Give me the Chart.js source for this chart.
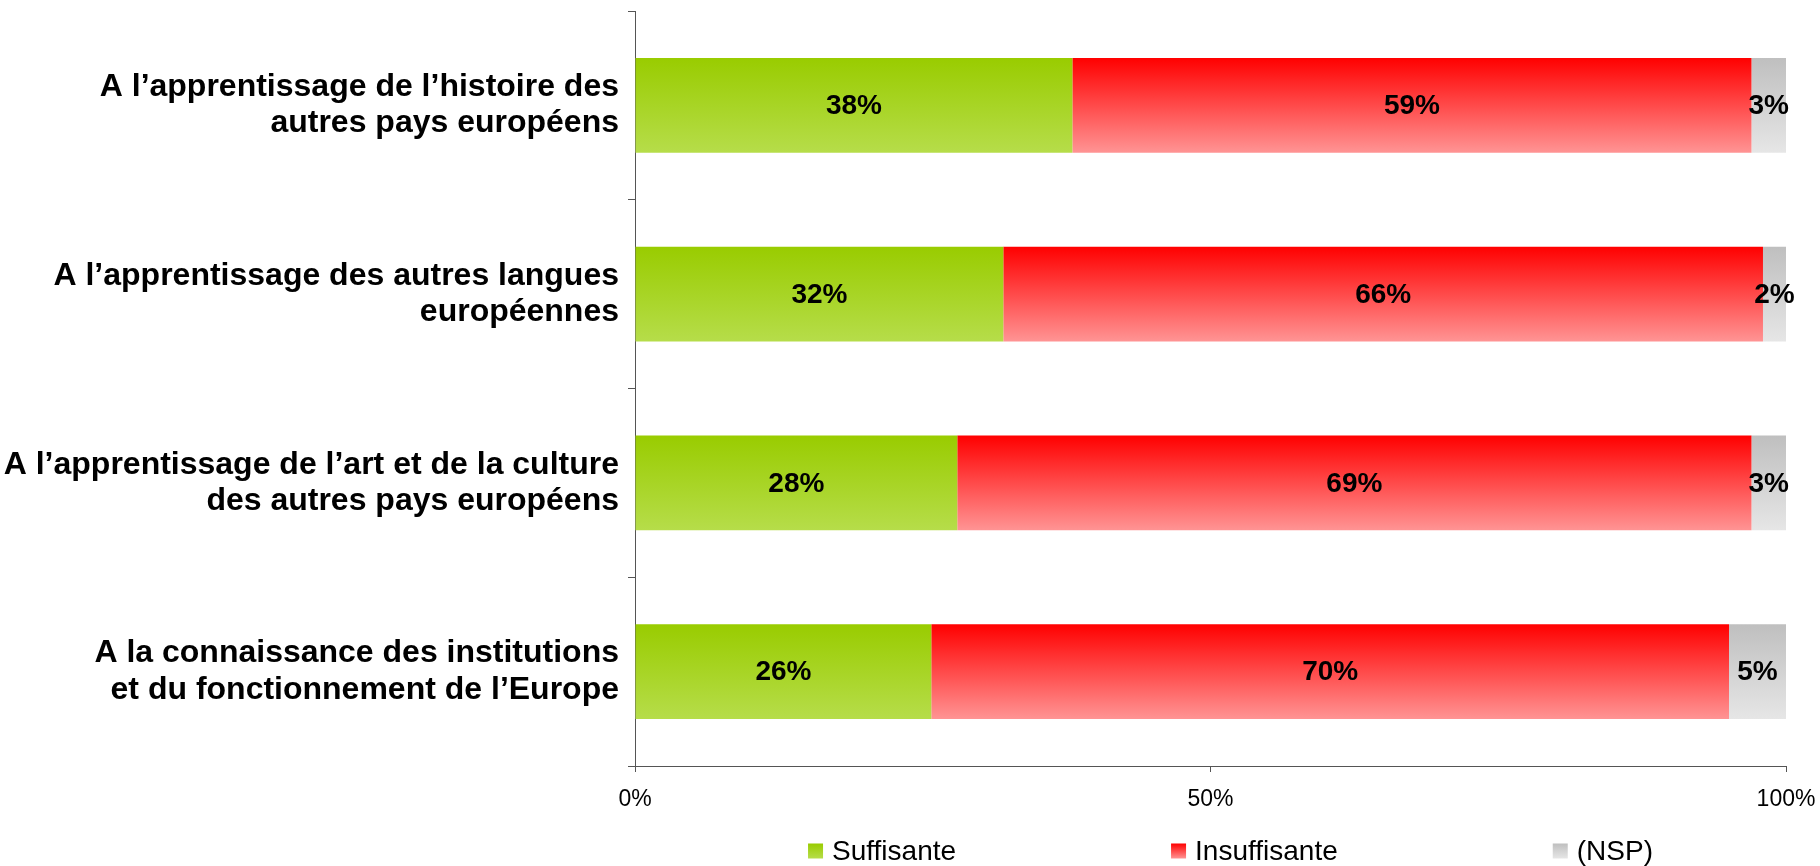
<!DOCTYPE html>
<html>
<head>
<meta charset="utf-8">
<script src="https://cdn.jsdelivr.net/npm/chart.js@4"></script>
<style>
    body { margin: 0; background: #fff; }
    #wrap { width: 1820px; height: 866px; position: relative; }
</style>
</head>
<body>
<div id="wrap"><canvas id="eduChart"></canvas></div>
<script>
// Data
const categories = [
    ['A l’apprentissage de l’histoire des', 'autres pays européens'],
    ['A l’apprentissage des autres langues', 'européennes'],
    ['A l’apprentissage de l’art et de la culture', 'des autres pays européens'],
    ['A la connaissance des institutions', 'et du fonctionnement de l’Europe']
];
const seriesNames = ['Suffisante', 'Insuffisante', '(NSP)'];
const suffisante = [38, 32, 28, 26];
const insuffisante = [59, 66, 69, 70];
const nsp = [3, 2, 3, 5];
const xTickValues = [0, 50, 100];

const FONT = '"Liberation Sans", Arial, sans-serif';
const BAR_SHARE = 0.503;

// 100% stacked: each row is scaled to its own total
const rowTotals = categories.map((c, i) => suffisante[i] + insuffisante[i] + nsp[i]);
function toShare(arr) {
    return arr.map((v, i) => v / rowTotals[i] * 100);
}

// Vertical gradient for each bar, from the y scale position of its category
function barGradient(top, bottom) {
    return function(c) {
        const chart = c.chart;
        const ys = chart.scales.y;
        if (!ys || c.dataIndex === undefined || !isFinite(ys.height)) return top;
        const mid = ys.getPixelForValue(c.dataIndex);
        const half = ys.height / chart.data.labels.length * BAR_SHARE / 2;
        const g = chart.ctx.createLinearGradient(0, mid - half, 0, mid + half);
        g.addColorStop(0, top);
        g.addColorStop(1, bottom);
        return g;
    };
}

const colours = [
    ['#99cc00', '#b6dd4a'],
    ['#ff0000', '#ff9494'],
    ['#bfbfbf', '#e6e6e6']
];
const rawValues = [suffisante, insuffisante, nsp];

const datasets = rawValues.map((arr, k) => ({
    label: seriesNames[k],
    data: toShare(arr),
    pct: arr,
    topColour: colours[k][0],
    bottomColour: colours[k][1],
    backgroundColor: barGradient(colours[k][0], colours[k][1]),
    borderWidth: 0,
    categoryPercentage: BAR_SHARE,
    barPercentage: 1
}));

// Percent labels in the middle of each segment
const valueLabels = {
    id: 'valueLabels',
    afterDatasetsDraw(chart) {
        const ctx = chart.ctx;
        ctx.save();
        ctx.font = 'bold 28px ' + FONT;
        ctx.fillStyle = '#000';
        ctx.textAlign = 'center';
        ctx.textBaseline = 'middle';
        chart.data.datasets.forEach((ds, d) => {
            chart.getDatasetMeta(d).data.forEach((el, i) => {
                const p = el.getCenterPoint();
                ctx.fillText(ds.pct[i] + '%', p.x, p.y + 1);
            });
        });
        ctx.restore();
    }
};

// Legend row under the axis, gradient boxes
const bottomLegend = {
    id: 'bottomLegend',
    afterDraw(chart) {
        const ctx = chart.ctx;
        const area = chart.chartArea;
        const box = 15, gapText = 9, gapItem = 215;
        const y = 851;
        ctx.save();
        ctx.font = '28px ' + FONT;
        const widths = chart.data.datasets.map(ds => ctx.measureText(ds.label).width);
        let total = 0;
        widths.forEach((w, i) => { total += box + gapText + w + (i < widths.length - 1 ? gapItem : 0); });
        let x = (area.left + area.right) / 2 + 20 - total / 2;
        chart.data.datasets.forEach((ds, i) => {
            const g = ctx.createLinearGradient(0, y - box / 2, 0, y + box / 2);
            g.addColorStop(0, ds.topColour);
            g.addColorStop(1, ds.bottomColour);
            ctx.fillStyle = g;
            ctx.fillRect(x, y - box / 2, box, box);
            ctx.fillStyle = '#000';
            ctx.textAlign = 'left';
            ctx.textBaseline = 'middle';
            ctx.fillText(ds.label, x + box + gapText, y + 1);
            x += box + gapText + widths[i] + gapItem;
        });
        ctx.restore();
    }
};

let eduChart;

document.addEventListener('DOMContentLoaded', function() {
    const ctx = document.getElementById('eduChart').getContext('2d');
    eduChart = new Chart(ctx, {
        type: 'bar',
        data: { labels: categories, datasets: datasets },
        options: {
            indexAxis: 'y',
            responsive: true,
            maintainAspectRatio: false,
            animation: false,
            layout: { padding: { top: 11, right: 34, bottom: 40, left: 0 } },
            plugins: {
                legend: { display: false },
                tooltip: { enabled: false }
            },
            scales: {
                x: {
                    stacked: true,
                    min: 0,
                    max: 100,
                    afterBuildTicks(axis) {
                        axis.ticks = xTickValues.map(v => ({ value: v }));
                    },
                    afterFit(axis) {
                        axis.height = 60;
                        axis.paddingLeft = 0;
                        axis.paddingRight = 0;
                    },
                    grid: { drawOnChartArea: false, tickLength: 6, color: '#555' },
                    border: { color: '#555', width: 1 },
                    ticks: {
                        padding: 14,
                        color: '#000',
                        font: { family: FONT, size: 23 },
                        callback: v => v + '%'
                    }
                },
                y: {
                    stacked: true,
                    afterFit(axis) {
                        axis.width = 635;
                        axis.paddingTop = 0;
                        axis.paddingBottom = 0;
                    },
                    grid: { drawOnChartArea: false, tickLength: 7, color: '#555', offset: true },
                    border: { color: '#555', width: 1 },
                    ticks: {
                        padding: 9,
                        color: '#000',
                        font: { family: FONT, size: 32, weight: 'bold', lineHeight: 1.13 }
                    }
                }
            }
        },
        plugins: [valueLabels, bottomLegend]
    });
});
</script>
</body>
</html>
